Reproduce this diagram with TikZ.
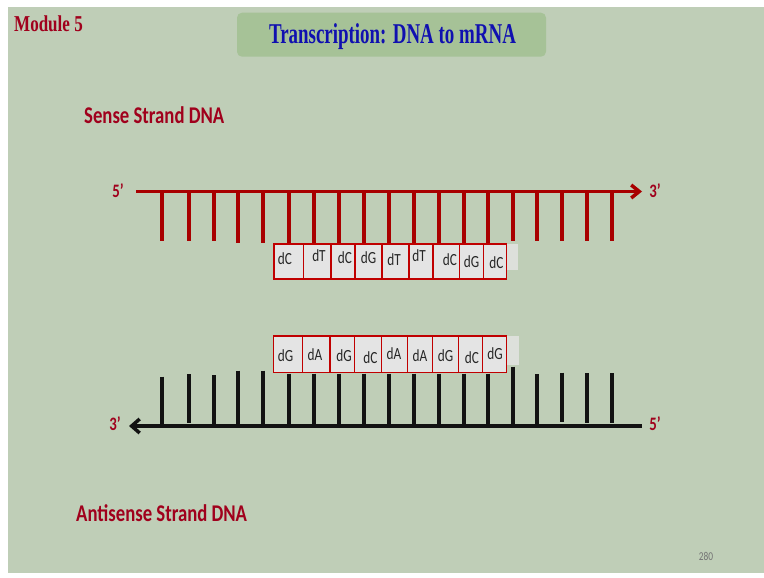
\documentclass[tikz,border=0pt]{standalone}
\usepackage{fontspec}
\usetikzlibrary{arrows.meta}

\newfontfamily\slidesans[FakeStretch=0.78]{Carlito}
\newfontfamily\titlefont[FakeStretch=0.66]{Liberation Serif}
\newfontfamily\modfont[FakeStretch=0.75]{Liberation Serif}

\definecolor{slidegreen}{HTML}{BFCEB7}
\definecolor{titlegreen}{HTML}{A6C297}
\definecolor{darkred}{HTML}{A0001C}
\definecolor{strandred}{HTML}{A80000}
\definecolor{boxgray}{HTML}{E4E4E4}
\definecolor{boxred}{HTML}{C00000}
\definecolor{extgray}{HTML}{DDE0DB}
\definecolor{titleblue}{HTML}{1010B0}

\begin{document}
\begin{tikzpicture}[x=1pt, y=-1pt, every node/.style={inner sep=0pt},
  strand/.style={line width=3.5pt, line cap=butt},
  tooth/.style={line width=3.6pt, line cap=butt},
  basebox/.style={fill=boxgray, draw=boxred, line width=1.5pt},
  baselabel/.style={font=\slidesans\fontsize{17}{18}\selectfont, text=black!85},
  endlabel/.style={font=\slidesans\bfseries\fontsize{19}{20}\selectfont, text=darkred},
  strandtitle/.style={font=\slidesans\bfseries\fontsize{24}{26}\selectfont, text=darkred, anchor=base west}]

% Slide
\useasboundingbox (0,0) rectangle (764,578);
\fill[white] (0,0) rectangle (764,578);
\fill[slidegreen] (7.5,6.7) rectangle (764,573);

% Header
\node[fill=titlegreen, rounded corners=5pt, minimum width=309pt, minimum height=44pt] (titlebox) at (391.5,34.7) {};
\node[anchor=base, font=\titlefont\bfseries\fontsize{28.7}{30}\selectfont, text=titleblue] (title) at (392.5,44) {Transcription: DNA to mRNA};
\node[anchor=base west, font=\modfont\bfseries\fontsize{22.7}{24}\selectfont, text=darkred] (module) at (14,32) {Module 5};

% Sense strand
\node[strandtitle] (sensetitle) at (84,124) {Sense Strand DNA};
\coordinate (s5) at (136,191.5);
\coordinate (s3) at (642,191.5);
\foreach \x/\b in {162/241, 189/241, 214/241, 238/243, 263/243, 289/244, 314/244, 339/244, 364/244,
                   389/244, 414/244, 439/244, 464/244, 488/244, 513/241, 537/241, 562/241, 587/241, 612/241}
  \draw[tooth, strandred] (\x,191.5) -- (\x,\b);
\draw[strand, strandred, -{Straight Barb[length=8pt, width=13pt]}] (s5) -- (s3);
\node[endlabel] (sense5) at (118,191) {5’};
\node[endlabel] (sense3) at (655,191) {3’};

% Sense bases
\fill[extgray] (506.7,244) rectangle (518,270);
\foreach \l/\r/\lab/\lx/\ly [count=\i] in {274/303.3/dC/285/259, 303.3/331/dT/319/256, 331/355/dC/345/258,
    355/382/dG/368.5/258, 382/409/dT/394/260, 409/433/dT/419/256, 433/459.3/dC/450/260,
    459.3/483.3/dG/471.5/261.7, 483.3/506.7/dC/496.5/263} {
  \draw[basebox] (\l,244) rectangle (\r,279);
  \node[baselabel] (sb\i) at (\lx,\ly) {\lab};
}

% Antisense bases
\fill[extgray] (506.7,336) rectangle (519,365);
\foreach \l/\r/\lab/\lx/\ly [count=\i] in {273.3/302.3/dG/285.5/356, 302.3/330/dA/315/355, 330/354.3/dG/344/355.5,
    354.3/381.7/dC/370.5/358, 381.7/407.7/dA/394/354, 407.7/432.7/dA/420/355.7, 432.7/458.3/dG/445.5/356,
    458.3/482.7/dC/472/357.5, 482.7/506.7/dG/495/354} {
  \draw[basebox] (\l,336) rectangle (\r,372.7);
  \node[baselabel] (ab\i) at (\lx,\ly) {\lab};
}

% Antisense strand
\coordinate (a5) at (642,426);
\coordinate (a3) at (129,426);
\foreach \x/\t/\b in {162/376.7/426, 189/374/422.7, 214/375.3/426, 238/370.7/426, 263/370.7/426,
                      289/373.5/426, 314/373.5/426, 339/373.5/426, 364/373.5/426, 389/373.5/426, 414/373.5/426,
                      439/373.5/426, 464/373.5/426, 488/373.5/426, 513/366.7/426, 537/374/426,
                      562/372.7/422, 587/373.3/422.7, 612/373.3/422.7}
  \draw[tooth, black!93] (\x,\t) -- (\x,\b);
\draw[strand, black!93, -{Straight Barb[length=8pt, width=14pt]}] (a5) -- (a3);
\node[endlabel] (anti3) at (115,424) {3’};
\node[endlabel] (anti5) at (655,424) {5’};
\node[strandtitle] (antititle) at (76,521) {Antisense Strand DNA};

% Page number
\node[font=\slidesans\fontsize{12}{13}\selectfont, text=black!55] (page) at (706,556) {280};

\end{tikzpicture}
\end{document}
